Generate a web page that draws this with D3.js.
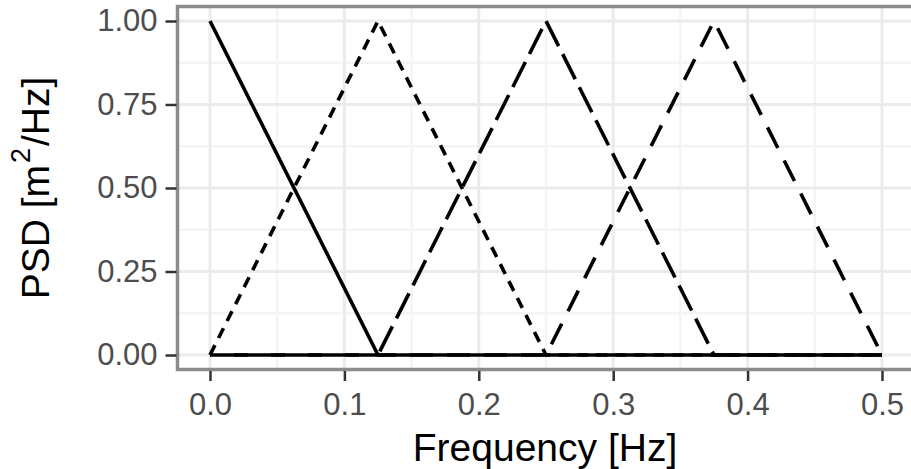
<!DOCTYPE html>
<html>
<head>
<meta charset="utf-8">
<script src="https://cdn.jsdelivr.net/npm/d3@7"></script>
<style>
  html, body { margin: 0; padding: 0; background: #ffffff; overflow: hidden; }
  svg { display: block; font-family: "Liberation Sans", Arial, Helvetica, sans-serif; }
</style>
</head>
<body>
<svg id="chart" width="911" height="469"></svg>
<script>
// ---- data ----
const freq = [0, 0.125, 0.25, 0.375, 0.5];
const psdWindow1 = [1, 0, 0, 0, 0];
const psdWindow2 = [0, 1, 0, 0, 0];
const psdWindow3 = [0, 0, 1, 0, 0];
const psdWindow4 = [0, 0, 0, 1, 0];
const xTicks = [0, 0.1, 0.2, 0.3, 0.4, 0.5];
const xTickLabels = ["0.0", "0.1", "0.2", "0.3", "0.4", "0.5"];
const xMinor = [0.05, 0.15, 0.25, 0.35, 0.45];
const yTicks = [0, 0.25, 0.5, 0.75, 1];
const yTickLabels = ["0.00", "0.25", "0.50", "0.75", "1.00"];
const yMinor = [0.125, 0.375, 0.625, 0.875];

const seriesList = [psdWindow1, psdWindow2, psdWindow3, psdWindow4];
const dashes = [null, "11 8", "28 9", "23 14"];
const dashOffsets = [0, 0, 13, 22];

// ---- layout ----
const svg = d3.select("#chart");
const panel = { left: 177.5, top: 6.5, right: 914, bottom: 369.5 };

const x = d3.scaleLinear().domain([0, 0.5]).range([210, 882]);
const y = d3.scaleLinear().domain([0, 1]).range([355, 21]);

// panel background
svg.append("rect")
  .attr("x", panel.left).attr("y", panel.top)
  .attr("width", panel.right - panel.left).attr("height", panel.bottom - panel.top)
  .attr("fill", "#ffffff");

// minor grid
const g = svg.append("g");
g.selectAll("line.xmin").data(xMinor).enter().append("line")
  .attr("x1", d => x(d)).attr("x2", d => x(d))
  .attr("y1", panel.top).attr("y2", panel.bottom)
  .attr("stroke", "#f4f4f4").attr("stroke-width", 2.5);
g.selectAll("line.ymin").data(yMinor).enter().append("line")
  .attr("y1", d => y(d)).attr("y2", d => y(d))
  .attr("x1", panel.left).attr("x2", panel.right)
  .attr("stroke", "#f4f4f4").attr("stroke-width", 2.5);
// major grid
g.selectAll("line.xmaj").data(xTicks).enter().append("line")
  .attr("x1", d => x(d)).attr("x2", d => x(d))
  .attr("y1", panel.top).attr("y2", panel.bottom)
  .attr("stroke", "#ebebeb").attr("stroke-width", 3);
g.selectAll("line.ymaj").data(yTicks).enter().append("line")
  .attr("y1", d => y(d)).attr("y2", d => y(d))
  .attr("x1", panel.left).attr("x2", panel.right)
  .attr("stroke", "#ebebeb").attr("stroke-width", 3);

// lines
const line = d3.line().x(d => x(d[0])).y(d => y(d[1]));
seriesList.forEach((s, i) => {
  const pts = freq.map((f, k) => [f, s[k]]);
  const p = svg.append("path")
    .attr("d", line(pts))
    .attr("fill", "none")
    .attr("stroke", "#000000")
    .attr("stroke-width", 3.6)
    .attr("stroke-linejoin", "miter")
    .attr("stroke-linecap", "butt");
  if (dashes[i]) p.attr("stroke-dasharray", dashes[i]).attr("stroke-dashoffset", dashOffsets[i]);
});

// panel border
svg.append("rect")
  .attr("x", panel.left).attr("y", panel.top)
  .attr("width", panel.right - panel.left).attr("height", panel.bottom - panel.top)
  .attr("fill", "none").attr("stroke", "#8c8c8c").attr("stroke-width", 3.5);

// axes
const xAxis = d3.axisBottom(x).tickValues(xTicks)
  .tickFormat((d, i) => xTickLabels[i]).tickSize(10).tickPadding(12);
const gx = svg.append("g").attr("transform", `translate(0,${panel.bottom + 1.5})`).call(xAxis);
gx.select(".domain").remove();
gx.selectAll(".tick line").attr("stroke", "#333333").attr("stroke-width", 2.5);
gx.selectAll(".tick text").attr("fill", "#4d4d4d").attr("font-size", 31)
  .attr("font-family", "Liberation Sans, Arial, sans-serif");

const yAxis = d3.axisLeft(y).tickValues(yTicks)
  .tickFormat((d, i) => yTickLabels[i]).tickSize(11).tickPadding(8);
const gy = svg.append("g").attr("transform", `translate(${panel.left - 1},0)`).call(yAxis);
gy.select(".domain").remove();
gy.selectAll(".tick line").attr("stroke", "#333333").attr("stroke-width", 2.5);
gy.selectAll(".tick text").attr("fill", "#4d4d4d").attr("font-size", 31)
  .attr("font-family", "Liberation Sans, Arial, sans-serif");

// axis titles
svg.append("text")
  .attr("x", 545).attr("y", 461)
  .attr("text-anchor", "middle")
  .attr("font-size", 39).attr("fill", "#000000")
  .text("Frequency [Hz]");

const yt = svg.append("text")
  .attr("transform", "translate(49,188) rotate(-90)")
  .attr("text-anchor", "middle")
  .attr("font-size", 39).attr("fill", "#000000");
yt.append("tspan").text("PSD [m");
yt.append("tspan").attr("font-size", 27).attr("dy", -19).attr("dx", 2).text("2");
yt.append("tspan").attr("dy", 19).attr("dx", 2).text("/Hz]");
</script>
</body>
</html>
